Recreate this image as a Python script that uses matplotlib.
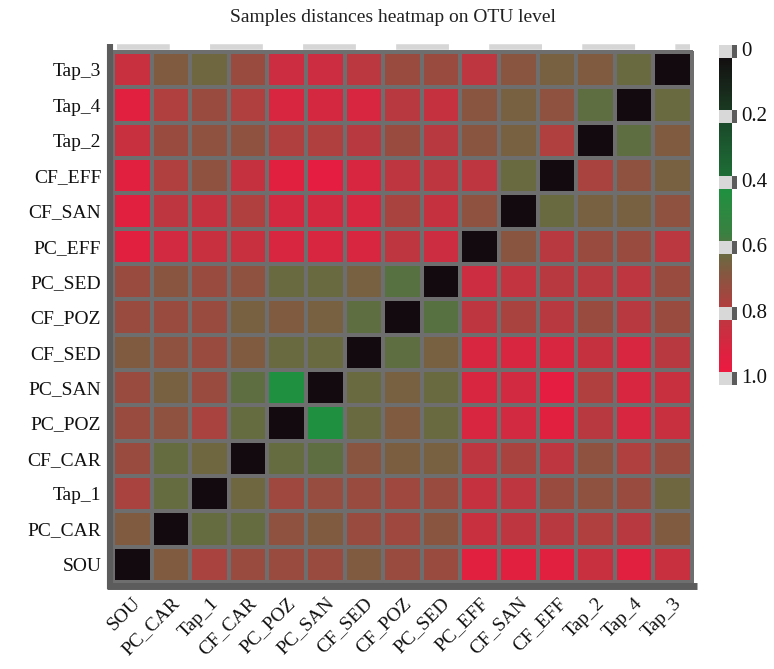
import numpy as np
import matplotlib
matplotlib.use("Agg")
import matplotlib.pyplot as plt
from matplotlib.colors import LinearSegmentedColormap
from matplotlib.lines import Line2D
from matplotlib.patches import Rectangle

plt.rcParams['font.family'] = ['Liberation Serif', 'DejaVu Serif']
plt.rcParams['lines.scale_dashes'] = False

# samples, left to right on the x axis; rows run in the opposite order
col_labels = ['SOU', 'PC_CAR', 'Tap_1', 'CF_CAR', 'PC_POZ', 'PC_SAN', 'CF_SED',
              'CF_POZ', 'PC_SED', 'PC_EFF', 'CF_SAN', 'CF_EFF', 'Tap_2', 'Tap_4', 'Tap_3']
row_labels = col_labels[::-1]

# distance matrix, rows top to bottom (Tap_3 ... SOU), columns as col_labels
dist = [
    [0.85, 0.67, 0.63, 0.73, 0.86, 0.86, 0.81, 0.73, 0.73, 0.82, 0.69, 0.65, 0.67, 0.62, 0.00],  # Tap_3
    [0.93, 0.78, 0.73, 0.78, 0.90, 0.89, 0.90, 0.80, 0.84, 0.69, 0.65, 0.70, 0.60, 0.00, 0.62],  # Tap_4
    [0.85, 0.73, 0.70, 0.70, 0.78, 0.78, 0.80, 0.73, 0.80, 0.69, 0.65, 0.78, 0.00, 0.60, 0.67],  # Tap_2
    [0.93, 0.78, 0.70, 0.84, 0.93, 0.95, 0.90, 0.82, 0.82, 0.82, 0.62, 0.00, 0.76, 0.70, 0.65],  # CF_EFF
    [0.93, 0.82, 0.84, 0.78, 0.89, 0.89, 0.90, 0.76, 0.84, 0.70, 0.00, 0.62, 0.65, 0.65, 0.70],  # CF_SAN
    [0.93, 0.88, 0.85, 0.85, 0.90, 0.90, 0.90, 0.82, 0.86, 0.00, 0.69, 0.80, 0.73, 0.73, 0.81],  # PC_EFF
    [0.73, 0.69, 0.73, 0.70, 0.62, 0.62, 0.65, 0.59, 0.00, 0.86, 0.83, 0.80, 0.80, 0.82, 0.73],  # PC_SED
    [0.73, 0.73, 0.73, 0.65, 0.67, 0.65, 0.60, 0.00, 0.59, 0.82, 0.76, 0.80, 0.73, 0.80, 0.73],  # CF_POZ
    [0.67, 0.70, 0.73, 0.67, 0.62, 0.62, 0.00, 0.60, 0.65, 0.90, 0.90, 0.90, 0.84, 0.90, 0.80],  # CF_SED
    [0.73, 0.65, 0.73, 0.60, 0.42, 0.00, 0.62, 0.65, 0.62, 0.90, 0.88, 0.95, 0.78, 0.90, 0.85],  # PC_SAN
    [0.73, 0.70, 0.76, 0.61, 0.00, 0.42, 0.62, 0.67, 0.62, 0.90, 0.88, 0.93, 0.80, 0.90, 0.85],  # PC_POZ
    [0.73, 0.61, 0.63, 0.00, 0.61, 0.60, 0.69, 0.66, 0.65, 0.82, 0.76, 0.82, 0.70, 0.78, 0.73],  # CF_CAR
    [0.76, 0.61, 0.00, 0.63, 0.74, 0.72, 0.73, 0.74, 0.73, 0.84, 0.82, 0.73, 0.70, 0.73, 0.63],  # Tap_1
    [0.67, 0.00, 0.61, 0.61, 0.70, 0.67, 0.73, 0.74, 0.69, 0.85, 0.82, 0.80, 0.78, 0.80, 0.67],  # PC_CAR
    [0.00, 0.67, 0.76, 0.73, 0.73, 0.73, 0.67, 0.73, 0.73, 0.93, 0.93, 0.93, 0.85, 0.93, 0.85],  # SOU
]

cbar_ticks = [0, 0.2, 0.4, 0.6, 0.8, 1.0]
cbar_labels = ['0', '0.2', '0.4', '0.6', '0.8', '1.0']

cmap = LinearSegmentedColormap.from_list('dist', [
    (0.00, '#120a0e'), (0.18, '#1a3a22'), (0.22, '#1a4a2a'), (0.38, '#1e6e36'),
    (0.42, '#1f9040'), (0.56, '#3a8040'), (0.60, '#5e6e40'), (0.62, '#6a6a40'),
    (0.70, '#8e5240'), (0.80, '#b83a40'), (0.85, '#c83040'), (0.93, '#e02040'),
    (1.00, '#f01840')])

W, H = 774, 669


def box(x0, y0, x1, y1):
    return [x0 / W, 1 - y1 / H, (x1 - x0) / W, (y1 - y0) / H]


fig = plt.figure(figsize=(W / 100, H / 100), dpi=100)

# heatmap
ax = fig.add_axes(box(113, 52, 692, 582))
n = len(col_labels)
data = np.array(dist)
ax.pcolormesh(np.arange(n + 1), np.arange(n + 1), data, cmap=cmap, vmin=0, vmax=1,
              edgecolors='#6e6e6e', linewidth=1.6, clip_on=False)
ax.set_xlim(0, n)
ax.set_ylim(n, 0)
for s in ax.spines.values():
    s.set_visible(False)
ax.set_xticks(np.arange(n) + 0.5)
ax.set_xticklabels(col_labels, rotation=45, ha='right', va='top', rotation_mode='anchor')
ax.set_yticks(np.arange(n) + 0.5)
ax.set_yticklabels(row_labels)
ax.tick_params(length=0, labelsize=14, colors='#111111')
ax.tick_params(axis='x', pad=9)
ax.tick_params(axis='y', pad=8.5)

# frame: dark left/bottom bars, light dashed top line
fig.add_artist(Line2D([110 / W, 110 / W], [1 - 44 / H, 1 - 589 / H], color='#5c5c5c', lw=4.4,
                      solid_capstyle='butt'))
fig.add_artist(Line2D([107 / W, 697 / W], [1 - 585.5 / H, 1 - 585.5 / H], color='#5c5c5c', lw=5,
                      solid_capstyle='butt'))
fig.add_artist(Line2D([117 / W, 690 / W], [1 - 47 / H, 1 - 47 / H], color='#d6d6d6', lw=4,
                      linestyle=(0, (38, 29)), dash_capstyle='butt'))

fig.text((113 + 692) / 2 / W - 0.012, 1 - 18 / H, 'Samples distances heatmap on OTU level',
         ha='center', va='center', fontsize=14, color='#222222')

# colour bar built from separated segments
cax = fig.add_axes(box(719, 45, 732, 385))
cax.set_xlim(0, 1)
cax.set_ylim(1.02, -0.02)
cax.axis('off')
for i in range(len(cbar_ticks) - 1):
    lo, hi = cbar_ticks[i] + 0.02, cbar_ticks[i + 1] - 0.02
    ys = np.linspace(lo, hi, 65)
    vals = ((ys[:-1] + ys[1:]) / 2).reshape(-1, 1)
    cax.pcolormesh([0, 1], ys, vals, cmap=cmap, vmin=0, vmax=1)
for t, lab in zip(cbar_ticks, cbar_labels):
    cax.add_patch(Rectangle((0, t - 0.02), 1, 0.04, color='#d8d8d8', lw=0))
    cax.add_patch(Rectangle((1, t - 0.02), 5 / 13, 0.04, color='#5c5c5c', lw=0, clip_on=False))
    cax.text(1 + 9 / 13, t, lab, ha='left', va='center', fontsize=15, color='#111111')

fig.savefig('out.png', dpi=100)
